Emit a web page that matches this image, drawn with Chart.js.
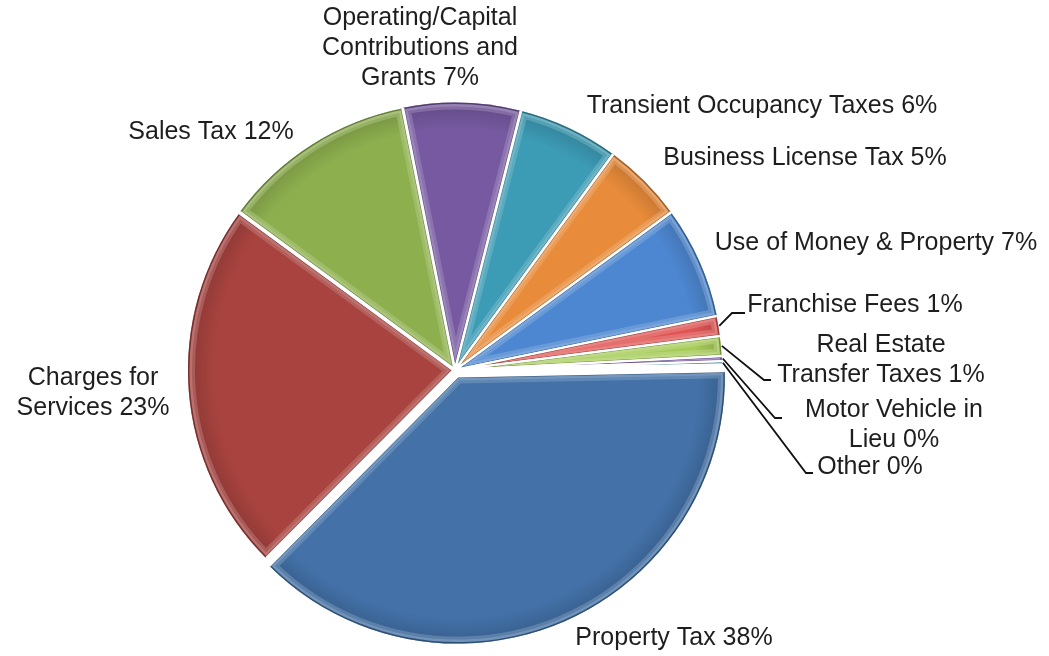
<!DOCTYPE html>
<html>
<head>
<meta charset="utf-8">
<script src="https://cdn.jsdelivr.net/npm/chart.js@4.4.1/dist/chart.umd.min.js"></script>
<style>
  html, body { margin: 0; padding: 0; background: #ffffff; }
  #wrap { width: 1049px; height: 656px; position: relative; }
</style>
</head>
<body>
<div id="wrap"><canvas id="revenue"></canvas></div>
<script>
// Revenue sources, share of total (%)
const categories = [
  'Property Tax',
  'Charges for Services',
  'Sales Tax',
  'Operating/Capital Contributions and Grants',
  'Transient Occupancy Taxes',
  'Business License Tax',
  'Use of Money & Property',
  'Franchise Fees',
  'Real Estate Transfer Taxes',
  'Motor Vehicle in Lieu',
  'Other'
];
const shares = [37.8, 22.6, 11.8, 7.1, 6.1, 4.9, 6.8, 1.2, 1.2, 0.3, 0.2];

const sliceColors = [
  '#4371A8', '#A8433F', '#8DAF4E', '#7659A0', '#3C9BB5', '#E88B3A',
  '#4D87D1', '#DE5553', '#A6CB58', '#8E6FBE', '#4DB5D3'
];
const sliceOffsets = [28, 8, 6, 6, 6, 6, 6, 4, 4, 4, 4];

// Label placement: centre x, centre y of the text block, wrap width,
// and an optional leader line (elbow point, then horizontal end x).
const labelLayout = [
  { x: 674, y: 638, wrap: Infinity },
  { x: 93,  y: 393, wrap: 170 },
  { x: 211, y: 132, wrap: Infinity },
  { x: 420, y: 48,  wrap: 205 },
  { x: 762, y: 106, wrap: Infinity },
  { x: 805, y: 158, wrap: Infinity },
  { x: 876, y: 243, wrap: Infinity },
  { x: 855, y: 305, wrap: Infinity, leader: [732, 313, 745] },
  { x: 881, y: 360, wrap: 225, leader: [764, 380, 771] },
  { x: 894, y: 425, wrap: 200, leader: [775, 418, 782] },
  { x: 870, y: 467, wrap: Infinity, leader: [806, 473, 813] }
];

const FONT = '25px "Liberation Sans", Arial, sans-serif';
const LINE_H = 30;

function mix(hex, target, t) {
  const n = parseInt(hex.slice(1), 16);
  const c = [(n >> 16) & 255, (n >> 8) & 255, n & 255];
  const m = c.map((v) => Math.round(v + (target - v) * t));
  return 'rgb(' + m.join(',') + ')';
}

// Geometry of an arc as ArcElement.draw places it (offset shift included)
function arcGeometry(arc) {
  const p = arc.getProps(['x', 'y', 'startAngle', 'endAngle', 'outerRadius', 'circumference'], true);
  const off = (arc.options.offset || 0) / 4;
  const mid = (p.startAngle + p.endAngle) / 2;
  const fix = 1 - Math.sin(Math.min(Math.PI, p.circumference || 0));
  const rOff = off * fix;
  const r = p.outerRadius + rOff;
  const cx = p.x + Math.cos(mid) * off;
  const cy = p.y + Math.sin(mid) * off;
  const alpha = p.endAngle - p.startAngle;
  const beta = Math.max(0.001, alpha * r - rOff / Math.PI) / r;
  const a0 = p.startAngle + (alpha - beta) / 2;
  const a1 = p.endAngle - (alpha - beta) / 2;
  return { cx, cy, r, a0, a1, mid };
}

function slicePath(ctx, g) {
  ctx.beginPath();
  ctx.arc(g.cx, g.cy, g.r, g.a0, g.a1);
  ctx.lineTo(g.cx, g.cy);
  ctx.closePath();
}

// Bevelled look: shaded rim, lighter inner edge band, thin dark edge
const bevelPlugin = {
  id: 'bevel',
  afterDatasetsDraw(chart) {
    const ctx = chart.ctx;
    const arcs = chart.getDatasetMeta(0).data;
    arcs.forEach((arc, i) => {
      const g = arcGeometry(arc);
      const base = sliceColors[i];
      ctx.save();
      slicePath(ctx, g);
      ctx.clip();
      const grad = ctx.createRadialGradient(g.cx, g.cy, Math.max(0, g.r - 26), g.cx, g.cy, g.r);
      grad.addColorStop(0, 'rgba(0,0,0,0)');
      grad.addColorStop(1, 'rgba(0,0,0,0.16)');
      ctx.fillStyle = grad;
      slicePath(ctx, g);
      ctx.fill();
      ctx.lineJoin = 'round';
      ctx.globalAlpha = 0.45;
      ctx.strokeStyle = mix(base, 255, 0.35);
      ctx.lineWidth = 14;
      slicePath(ctx, g);
      ctx.stroke();
      ctx.globalAlpha = 0.7;
      ctx.strokeStyle = mix(base, 255, 0.3);
      ctx.lineWidth = 8;
      slicePath(ctx, g);
      ctx.stroke();
      ctx.globalAlpha = 1;
      ctx.strokeStyle = mix(base, 0, 0.3);
      ctx.lineWidth = 3;
      slicePath(ctx, g);
      ctx.stroke();
      ctx.restore();
    });
    ctx.save();
    ctx.strokeStyle = '#ffffff';
    ctx.lineWidth = 2;
    ctx.lineJoin = 'round';
    arcs.forEach((arc) => {
      const g = arcGeometry(arc);
      ctx.beginPath();
      ctx.moveTo(g.cx + Math.cos(g.a0) * g.r, g.cy + Math.sin(g.a0) * g.r);
      ctx.lineTo(g.cx, g.cy);
      ctx.lineTo(g.cx + Math.cos(g.a1) * g.r, g.cy + Math.sin(g.a1) * g.r);
      ctx.stroke();
    });
    ctx.restore();
  }
};

function wrapText(ctx, text, maxWidth) {
  const words = text.split(' ');
  const lines = [];
  let cur = '';
  words.forEach((w) => {
    const test = cur ? cur + ' ' + w : w;
    if (cur && ctx.measureText(test).width > maxWidth) {
      lines.push(cur);
      cur = w;
    } else {
      cur = test;
    }
  });
  if (cur) lines.push(cur);
  return lines;
}

// Category labels with percentages and leader lines
const labelPlugin = {
  id: 'sliceLabels',
  afterDraw(chart) {
    const ctx = chart.ctx;
    const arcs = chart.getDatasetMeta(0).data;
    const values = chart.data.datasets[0].data;
    const total = values.reduce((a, b) => a + b, 0);
    ctx.save();
    ctx.font = FONT;
    ctx.fillStyle = '#1e1e1e';
    ctx.textAlign = 'center';
    ctx.textBaseline = 'middle';
    chart.data.labels.forEach((name, i) => {
      const lay = labelLayout[i];
      const pct = Math.round(values[i] / total * 100);
      const lines = wrapText(ctx, name + ' ' + pct + '%', lay.wrap);
      const top = lay.y - (lines.length - 1) * LINE_H / 2;
      lines.forEach((ln, k) => ctx.fillText(ln, lay.x, top + k * LINE_H));
      if (lay.leader) {
        const g = arcGeometry(arcs[i]);
        const sx = g.cx + Math.cos(g.mid) * (g.r + 1);
        const sy = g.cy + Math.sin(g.mid) * (g.r + 1);
        ctx.beginPath();
        ctx.strokeStyle = '#111111';
        ctx.lineWidth = 1.8;
        ctx.moveTo(sx, sy);
        ctx.lineTo(lay.leader[0], lay.leader[1]);
        ctx.lineTo(lay.leader[2], lay.leader[1]);
        ctx.stroke();
      }
    });
    ctx.restore();
  }
};

new Chart(document.getElementById('revenue'), {
  type: 'pie',
  data: {
    labels: categories,
    datasets: [{
      data: shares,
      backgroundColor: sliceColors,
      borderColor: '#ffffff',
      borderWidth: 2,
      offset: sliceOffsets
    }]
  },
  options: {
    responsive: true,
    maintainAspectRatio: false,
    animation: false,
    rotation: 88.8,
    radius: 265,
    layout: { padding: { left: 0, right: 139, top: 84, bottom: 0 } },
    plugins: {
      legend: { display: false },
      tooltip: { enabled: false }
    },
    events: []
  },
  plugins: [bevelPlugin, labelPlugin]
});
</script>
</body>
</html>
